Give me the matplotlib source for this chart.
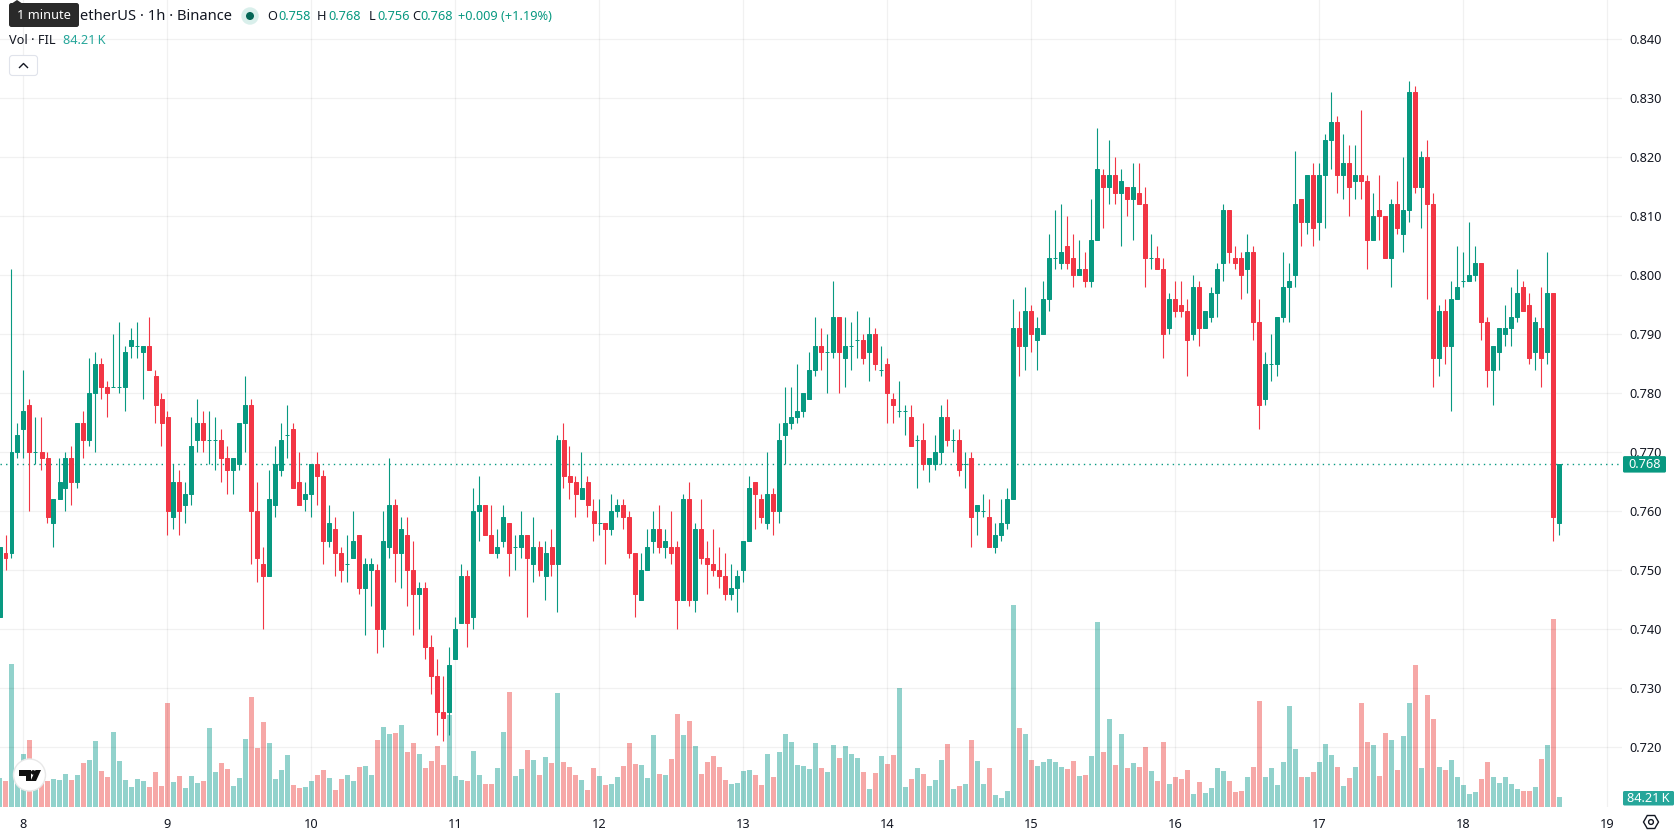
"""FIL/USDT 1h candles with volume, TradingView-like layout."""

import numpy as np
import matplotlib
matplotlib.use("Agg")
import matplotlib.pyplot as plt
from matplotlib.lines import Line2D
from matplotlib.patches import Circle, FancyBboxPatch, Polygon, RegularPolygon

plt.rcParams['font.family'] = ['Noto Sans', 'DejaVu Sans']

# prices are written in thousandths, one row per 20 hourly candles
opens = np.array([
    742,753,753,770,774,778,770,770,769,758,762,764,769,765,775,772,780,785,781,781,
    781,781,788,788,787,788,783,779,776,759,765,761,763,772,775,772,772,772,769,767,
    768,775,778,760,751,749,761,767,773,774,765,762,763,768,766,755,757,753,751,752,
    756,747,750,750,740,754,761,753,756,750,746,747,737,732,726,726,735,741,749,742,
    760,761,756,753,755,758,754,754,756,751,754,749,754,751,772,766,765,762,765,760,
    758,758,757,760,761,759,753,745,750,755,757,754,754,754,745,762,745,757,752,751,
    750,749,746,747,750,755,765,762,758,763,760,773,775,776,777,779,784,788,787,787,
    793,786,788,789,789,787,790,784,785,779,777,777,776,772,772,768,768,770,776,772,
    772,768,769,760,760,759,754,756,758,762,791,788,794,789,790,796,803,802,805,803,
    800,801,799,806,817,815,817,814,815,813,814,812,803,803,801,791,796,795,794,790,
    798,791,793,797,802,811,803,803,801,804,792,779,785,785,793,798,800,813,809,817,
    809,817,823,826,817,819,816,817,816,806,811,810,803,812,807,811,831,815,820,812,
    786,794,788,796,799,799,800,802,792,784,787,790,791,793,798,795,787,791,787,797,758,
]) / 1000
highs = np.array([
    754,756,801,775,784,779,776,776,770,762,769,770,771,775,777,786,787,786,782,790,
    792,788,791,792,788,793,784,780,777,768,767,765,776,779,777,777,776,774,771,769,
    775,783,779,765,754,767,771,775,778,775,770,765,768,770,767,761,759,754,756,760,
    756,752,752,751,760,769,762,759,759,755,748,748,739,735,732,737,742,751,750,764,
    766,761,761,757,761,758,756,760,756,759,755,755,757,773,775,771,766,770,766,762,
    762,758,763,762,762,760,753,753,757,760,761,757,760,755,763,765,758,762,755,757,
    754,753,751,750,755,766,765,763,770,764,775,781,781,785,780,787,793,791,790,799,
    793,793,792,794,790,793,791,788,786,780,782,778,778,773,775,769,773,778,779,774,
    774,770,770,761,763,762,758,762,764,796,794,798,795,793,799,807,811,812,810,807,
    806,804,813,825,818,823,820,818,815,819,819,815,807,805,803,797,799,799,796,800,
    799,794,798,802,812,811,805,804,807,805,796,787,790,793,804,802,821,813,817,819,
    819,824,831,827,824,822,822,828,817,814,817,810,813,816,820,833,832,821,823,814,
    795,796,799,805,804,809,805,802,793,788,791,795,798,801,799,797,793,798,804,797,768,
]) / 1000
lows = np.array([
    742,750,752,769,769,760,768,767,758,754,762,760,761,764,769,771,770,779,776,781,
    780,777,786,786,779,784,775,771,756,757,756,758,761,770,770,768,767,765,763,763,
    767,770,751,748,740,749,759,766,769,764,761,760,759,761,751,754,749,748,748,752,
    746,739,744,736,737,752,748,747,744,739,740,735,729,722,721,722,735,741,737,740,
    755,756,753,752,754,749,750,752,742,748,749,745,749,743,764,762,759,762,759,755,
    756,751,756,759,757,752,742,745,750,753,753,752,751,740,745,744,743,751,746,749,
    747,745,745,743,748,755,757,758,757,756,758,768,774,775,776,779,783,784,780,786,
    780,781,784,786,785,782,784,783,775,775,776,773,771,764,767,765,767,768,771,770,
    766,764,754,756,759,754,753,755,757,762,783,784,787,784,790,794,801,801,801,798,
    800,798,798,806,808,812,812,805,810,806,812,798,801,801,786,790,793,793,783,789,
    788,791,792,793,799,802,801,796,797,789,774,778,782,783,792,792,798,805,807,805,
    806,808,818,814,813,810,813,813,801,806,806,803,798,807,804,809,814,808,796,781,
    783,785,777,796,798,799,799,789,781,778,784,788,788,792,794,785,784,781,785,755,756,
]) / 1000
closes = np.array([
    754,752,770,773,777,770,770,769,759,762,765,769,765,775,772,780,785,781,780,781,
    781,787,789,788,788,784,778,775,760,765,760,763,771,775,772,772,772,769,767,769,
    775,778,760,752,749,762,768,772,773,764,761,763,768,766,755,758,753,750,751,755,
    747,751,751,740,755,761,753,757,750,746,747,737,732,726,725,734,740,749,741,760,
    761,756,753,754,759,753,754,756,752,754,750,753,751,772,766,765,763,764,761,758,
    758,757,760,761,759,753,746,750,754,757,754,755,753,745,762,745,757,752,751,750,
    749,746,747,749,755,764,763,759,763,760,772,775,776,777,780,784,788,787,787,793,
    787,788,788,789,786,790,785,784,780,778,777,777,771,772,768,769,770,776,772,772,
    767,768,759,761,760,754,756,758,762,791,788,794,790,791,796,803,803,804,802,800,
    801,799,806,818,815,817,814,816,813,815,812,803,803,801,790,796,794,794,789,798,
    791,794,797,801,811,804,802,800,804,792,778,785,785,793,798,799,812,809,817,808,
    817,823,826,817,819,815,817,816,806,810,810,803,812,808,811,831,815,820,812,786,
    794,788,796,798,799,800,802,792,784,788,791,791,793,797,794,786,792,786,797,759,768,
]) / 1000

# volume in thousands of FIL
volumes = np.array([
    238,213,1173,249,435,550,208,200,213,230,221,271,221,262,361,385,541,295,246,615,
    377,221,164,230,213,164,287,172,853,205,254,156,254,197,213,648,287,361,312,172,
    238,558,902,484,697,525,230,303,426,180,156,164,213,262,303,238,139,230,262,213,
    328,336,262,550,656,599,607,673,451,525,435,320,377,500,344,755,254,221,213,459,
    262,189,189,320,615,943,254,312,467,385,262,410,361,935,369,328,262,221,139,320,
    254,180,189,246,336,525,353,344,238,591,271,262,394,763,591,705,500,271,369,418,
    328,221,189,197,295,303,262,180,435,246,451,599,533,344,336,312,525,320,287,509,
    402,500,435,402,287,148,279,418,353,426,976,164,230,320,271,172,221,385,517,148,
    172,189,550,377,189,320,98,74,131,1657,648,599,385,336,369,394,369,328,312,377,
    254,262,418,1517,451,722,344,599,320,361,328,492,295,213,533,189,246,230,303,107,
    205,115,156,320,295,213,123,131,246,328,869,246,320,180,369,828,476,246,246,287,
    369,517,426,328,172,238,328,853,533,509,254,607,550,303,582,853,1165,320,919,722,
    328,303,385,246,180,107,123,230,369,246,197,246,189,148,131,131,164,394,509,1542,84.21,
])

day_labels = ['8', '9', '10', '11', '12', '13', '14', '15', '16', '17', '18', '19']
bold_days = ['8', '15']
price_ticks = [0.72, 0.73, 0.74, 0.75, 0.76, 0.77, 0.78, 0.79, 0.80, 0.81, 0.82, 0.83, 0.84]

GREEN = '#089981'
RED = '#F23645'
VOL_GREEN = '#26a69a'
VOL_RED = '#ef5350'
TEXT = '#131722'
W, H = 1678, 835
PLOT_W, PLOT_H = 1622, 807

# hour 0 is midnight of day 8, the first candles belong to day 7
hours = np.arange(-4, len(opens) - 4)
is_up = closes >= opens

fig = plt.figure(figsize=(W / 100, H / 100), dpi=100, facecolor='white')
rect = [0, (H - PLOT_H) / H, PLOT_W / W, PLOT_H / H]

ax_vol = fig.add_axes(rect, zorder=1)
ax_vol.set_xlim(-23.5 / 6, (PLOT_W - 23.5) / 6)
ax_vol.set_ylim(0, PLOT_H * 8.2)
ax_vol.bar(hours, volumes, width=5 / 6,
           color=np.where(is_up, VOL_GREEN, VOL_RED), alpha=0.5, linewidth=0)
ax_vol.axis('off')

ax = fig.add_axes(rect, zorder=2)
ax.patch.set_alpha(0)
ax.set_xlim(ax_vol.get_xlim())
ax.set_ylim(0.70988, 0.84666)
for side in ax.spines.values():
    side.set_visible(False)

# grid
ax.set_xticks(np.arange(len(day_labels)) * 24)
ax.set_xticklabels(day_labels, fontsize=9.2, color=TEXT)
for lab in ax.get_xticklabels():
    if lab.get_text() in bold_days:
        lab.set_fontweight('bold')
ax.yaxis.tick_right()
ax.set_yticks(price_ticks)
ax.set_yticklabels([f'{p:.3f}' for p in price_ticks], fontsize=9.2, color=TEXT)
ax.tick_params(axis='both', length=0)
ax.tick_params(axis='x', pad=8)
ax.tick_params(axis='y', pad=5.5)
ax.grid(True, color='black', alpha=0.055, linewidth=0.9)
ax.set_axisbelow(True)

# candles: wick first, then the body with a thin edge so dojis still show as a dash
colors = np.where(is_up, GREEN, RED)
ax.vlines(hours, lows, highs, colors=colors, linewidth=0.8, zorder=3)
ax.bar(hours, np.abs(closes - opens), bottom=np.minimum(opens, closes), width=4 / 6,
       color=colors, edgecolor=colors, linewidth=0.72, zorder=4)

# last price line
ax.axhline(closes[-1], color=GREEN, linewidth=1.0, linestyle=(0, (1, 3)), zorder=2.5)

# everything around the plot is placed in pixels from the top left corner
ui = fig.add_axes([0, 0, 1, 1], zorder=10)
ui.set_xlim(0, W)
ui.set_ylim(H, 0)
ui.axis('off')

last_y = H - ax.transData.transform((0, closes[-1]))[1]
ui.add_patch(FancyBboxPatch((1623, last_y - 8), 43, 16.5, boxstyle='round,pad=0,rounding_size=1.5',
                            fc=GREEN, ec='none'))
ui.text(1645, last_y, f'{closes[-1]:.3f}', color='white', fontsize=9.2, ha='center', va='center')

ui.add_patch(FancyBboxPatch((1623, 791), 51, 14.5, boxstyle='round,pad=0,rounding_size=1.5',
                            fc=VOL_GREEN, ec='none'))
vol_text = f'{volumes[-1]:.2f}\u2009K'
ui.text(1648, 798, vol_text, color='white', fontsize=9.2, ha='center', va='center')

# settings icon under the price scale
ui.add_patch(RegularPolygon((1651, 822), 6, radius=7.5, orientation=np.pi / 6,
                            fc='none', ec=TEXT, lw=1.0))
ui.add_patch(Circle((1651, 822), 2.4, fc='none', ec=TEXT, lw=1.0))

# header, the start of the symbol name sits under the tooltip
ui.text(232, 16, 'etherUS · 1h · Binance', color=TEXT, fontsize=10.6, ha='right', va='center')
ui.add_patch(Circle((250, 16), 8.7, fc='#d9efeb', ec='none'))
ui.add_patch(Circle((250, 16), 4, fc='#056656', ec='none'))

change = closes[-1] - closes[-2]
for x, s, c in [(267, 'O', TEXT), (278, f'{opens[-1]:.3f}', GREEN),
                (317, 'H', TEXT), (328, f'{highs[-1]:.3f}', GREEN),
                (369, 'L', TEXT), (377, f'{lows[-1]:.3f}', GREEN),
                (412, 'C', TEXT), (420, f'{closes[-1]:.3f}', GREEN),
                (458, f'{change:+.3f} ({change / closes[-2]:+.2%})', GREEN)]:
    ui.text(x, 16, s, color=c, fontsize=9.2, ha='left', va='center')

ui.text(9, 40, 'Vol · FIL', color=TEXT, fontsize=9.2, ha='left', va='center')
ui.text(63, 40, vol_text, color=VOL_GREEN, fontsize=9.2, ha='left', va='center')

# collapse button
ui.add_patch(FancyBboxPatch((9.5, 55.5), 28, 20, boxstyle='round,pad=0,rounding_size=3',
                            fc='white', ec='#e0e3eb', lw=0.8))
ui.add_line(Line2D([19.5, 23.5, 27.5], [67.5, 63.5, 67.5], color=TEXT, lw=1.0))

# tooltip over the symbol name
ui.add_patch(Polygon([[11, 4], [17, 0], [23, 4]], fc='#2a2a2a', ec='none'))
ui.add_patch(FancyBboxPatch((9, 3), 70, 24, boxstyle='round,pad=0,rounding_size=2.5',
                            fc='#2a2a2a', ec='none'))
ui.text(44, 15.5, '1 minute', color='white', fontsize=9.2, ha='center', va='center')

# chart logo
ui.add_patch(Circle((29.5, 775), 16, fc='white', ec='#e8e8e8', lw=1.0))
ui.add_patch(Polygon([[19, 770], [31, 770], [31, 781], [25.5, 781], [25.5, 775.5], [19, 775.5]],
                     fc='#111111', ec='none'))
ui.add_patch(Circle((33.2, 772.4), 2.3, fc='#111111', ec='none'))
ui.add_patch(Polygon([[41, 770], [36, 781], [30.5, 781], [35.5, 770]], fc='#111111', ec='none'))

fig.savefig('out.png', dpi=100, facecolor='white')
